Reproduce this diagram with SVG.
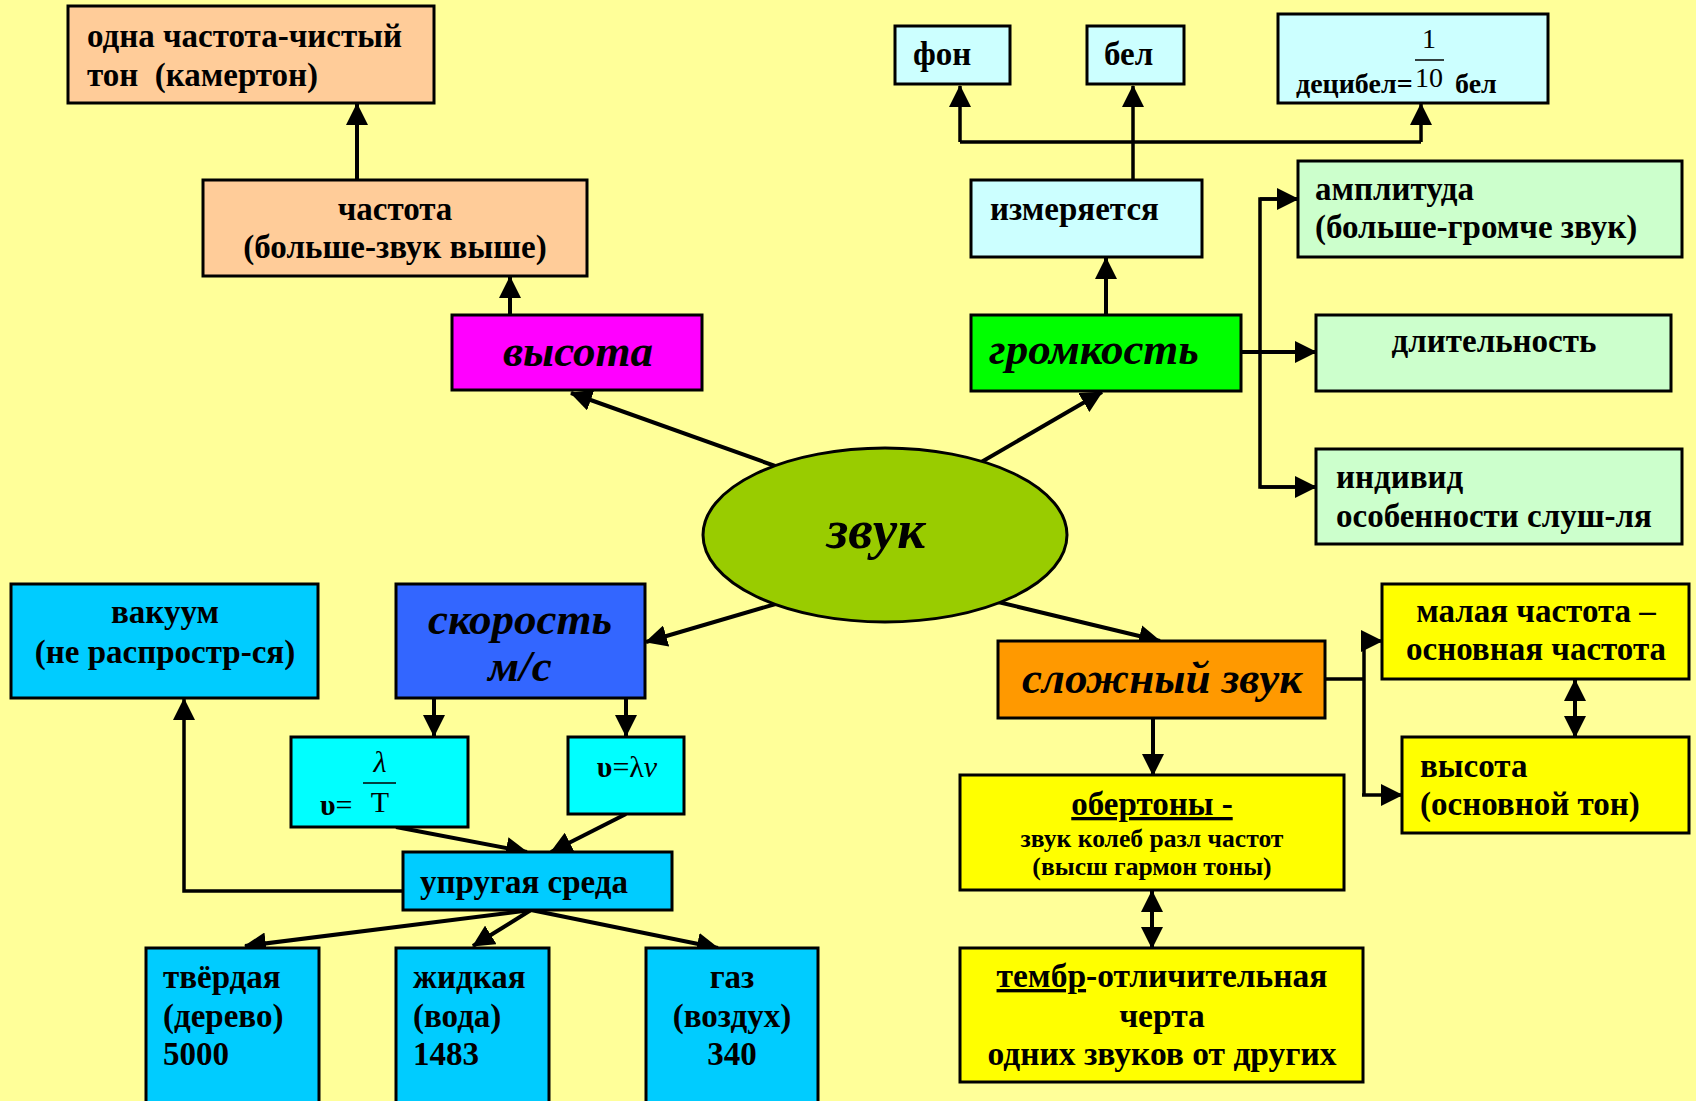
<svg xmlns="http://www.w3.org/2000/svg" width="1696" height="1101" viewBox="0 0 1696 1101">
<style>
.bx{stroke:#000;stroke-width:3}
.t{font-family:"Liberation Serif","Times New Roman",serif;font-weight:bold;font-size:33px;fill:#000;white-space:pre}
.c{text-anchor:middle}
.bi{font-family:"Liberation Serif","Times New Roman",serif;font-weight:bold;font-style:italic;font-size:45px;fill:#000;text-anchor:middle}
.r{font-family:"Liberation Serif","Times New Roman",serif;font-size:28px;fill:#000}
.ln{stroke:#000;stroke-width:4;fill:none}
.br{stroke:#000;stroke-width:3.5;fill:none}
.a{marker-end:url(#ah)}
.d{marker-start:url(#ah);marker-end:url(#ah)}
</style>
<defs>
<marker id="ah" markerUnits="userSpaceOnUse" markerWidth="22" markerHeight="22" refX="21" refY="11" orient="auto-start-reverse" viewBox="0 0 22 22">
<path d="M0,0 L22,11 L0,22 z" fill="#000"/>
</marker>
</defs>
<rect x="0" y="0" width="1696" height="1101" fill="#FFFF99"/>

<g id="connectors">
<line class="ln a" x1="357" y1="180" x2="357" y2="104"/>
<line class="ln a" x1="510" y1="315" x2="510" y2="277"/>
<line class="ln a" x1="778" y1="467" x2="571" y2="393"/>
<line class="ln a" x1="971" y1="468" x2="1102" y2="392"/>
<line class="ln a" x1="1106" y1="315" x2="1106" y2="258"/>
<polyline class="br" points="1133,180 1133,142"/>
<polyline class="br" points="960,142 1421,142"/>
<line class="br a" x1="960" y1="142" x2="960" y2="86"/>
<line class="br a" x1="1133" y1="142" x2="1133" y2="86"/>
<line class="br a" x1="1421" y1="142" x2="1421" y2="104"/>
<line class="ln a" x1="1241" y1="352" x2="1316" y2="352"/>
<polyline class="br" points="1298,199 1260,199 1260,487 1316,487"/>
<line class="br a" x1="1260" y1="199" x2="1298" y2="199"/>
<line class="br a" x1="1260" y1="487" x2="1316" y2="487"/>
<line class="ln a" x1="779" y1="603" x2="646" y2="642"/>
<line class="ln a" x1="434" y1="699" x2="434" y2="736"/>
<line class="ln a" x1="626" y1="699" x2="626" y2="736"/>
<line class="ln a" x1="396" y1="827" x2="527" y2="852"/>
<line class="ln a" x1="626" y1="814" x2="551" y2="852"/>
<polyline class="br a" points="403,891 184,891 184,699"/>
<line class="ln a" x1="531" y1="910" x2="245" y2="946"/>
<line class="ln a" x1="531" y1="910" x2="473" y2="946"/>
<line class="ln a" x1="531" y1="910" x2="718" y2="948"/>
<line class="ln a" x1="998" y1="602" x2="1160" y2="641"/>
<polyline class="br" points="1325,679 1364,679"/>
<polyline class="br" points="1364,641 1364,795"/>
<line class="br a" x1="1362" y1="641" x2="1382" y2="641"/>
<line class="br a" x1="1362" y1="795" x2="1402" y2="795"/>
<line class="ln d" x1="1575" y1="680" x2="1575" y2="737"/>
<line class="ln a" x1="1153" y1="718" x2="1153" y2="775"/>
<line class="ln d" x1="1152" y1="891" x2="1152" y2="948"/>
</g>

<g id="n-odna">
<rect class="bx" x="68" y="6" width="366" height="97" fill="#FFCC99"/>
<text class="t" x="87" y="47">одна частота-чистый</text>
<text class="t" x="87" y="86">тон  (камертон)</text>
</g>
<g id="n-chastota">
<rect class="bx" x="203" y="180" width="384" height="96" fill="#FFCC99"/>
<text class="t c" x="395" y="220">частота</text>
<text class="t c" x="395" y="258">(больше-звук выше)</text>
</g>
<g id="n-vysota">
<rect class="bx" x="452" y="315" width="250" height="75" fill="#FF00FF"/>
<text class="bi" x="578" y="366">высота</text>
</g>
<g id="n-zvuk">
<ellipse class="bx" cx="885" cy="535" rx="182" ry="87" fill="#99CC00"/>
<text class="bi" x="876" y="548" style="font-size:55px">звук</text>
</g>
<g id="n-gromkost">
<rect class="bx" x="971" y="315" width="270" height="76" fill="#00FF00"/>
<text class="bi" x="1094" y="364">громкость</text>
</g>
<g id="n-izmer">
<rect class="bx" x="971" y="180" width="231" height="77" fill="#CCFFFF"/>
<text class="t" x="990" y="220">измеряется</text>
</g>
<g id="n-fon">
<rect class="bx" x="895" y="26" width="115" height="58" fill="#CCFFFF"/>
<text class="t" x="913" y="65">фон</text>
</g>
<g id="n-bel">
<rect class="bx" x="1087" y="26" width="97" height="58" fill="#CCFFFF"/>
<text class="t" x="1104" y="65">бел</text>
</g>
<g id="n-decibel">
<rect class="bx" x="1278" y="14" width="270" height="89" fill="#CCFFFF"/>
<text class="t" x="1296" y="93" style="font-size:28px">децибел=</text>
<text class="r" x="1429" y="48" text-anchor="middle">1</text>
<line x1="1415" y1="60" x2="1444" y2="60" stroke="#000" stroke-width="1.5"/>
<text class="r" x="1429" y="87" text-anchor="middle">10</text>
<text class="t" x="1455" y="93" style="font-size:28px">бел</text>
</g>
<g id="n-amplituda">
<rect class="bx" x="1298" y="161" width="384" height="96" fill="#CCFFCC"/>
<text class="t" x="1315" y="200">амплитуда</text>
<text class="t" x="1315" y="238">(больше-громче звук)</text>
</g>
<g id="n-dlit">
<rect class="bx" x="1316" y="315" width="355" height="76" fill="#CCFFCC"/>
<text class="t c" x="1494" y="352">длительность</text>
</g>
<g id="n-individ">
<rect class="bx" x="1316" y="449" width="366" height="95" fill="#CCFFCC"/>
<text class="t" x="1336" y="488">индивид</text>
<text class="t" x="1336" y="527">особенности слуш-ля</text>
</g>
<g id="n-vakuum">
<rect class="bx" x="11" y="584" width="307" height="114" fill="#00CCFF"/>
<text class="t c" x="165" y="623">вакуум</text>
<text class="t c" x="165" y="663">(не распростр-ся)</text>
</g>
<g id="n-skorost">
<rect class="bx" x="396" y="584" width="249" height="114" fill="#3366FF"/>
<text class="bi" x="520" y="634">скорость</text>
<text class="bi" x="520" y="681">м/с</text>
</g>
<g id="n-lambdaT">
<rect class="bx" x="291" y="737" width="177" height="90" fill="#00FFFF"/>
<text class="t" x="320" y="815" style="font-size:30px">υ<tspan font-weight="normal">=</tspan></text>
<text class="r" x="380" y="772" text-anchor="middle" style="font-size:30px;font-style:italic">λ</text>
<line x1="363" y1="783" x2="396" y2="783" stroke="#000" stroke-width="1.5"/>
<text class="r" x="380" y="812" text-anchor="middle" style="font-size:30px">T</text>
</g>
<g id="n-lambdanu">
<rect class="bx" x="568" y="737" width="116" height="77" fill="#00FFFF"/>
<text class="t c" x="627" y="777" style="font-size:30px">υ<tspan font-weight="normal">=λ</tspan><tspan font-weight="normal" font-style="italic">ν</tspan></text>
</g>
<g id="n-uprugaya">
<rect class="bx" x="403" y="852" width="269" height="58" fill="#00CCFF"/>
<text class="t" x="420" y="893">упругая среда</text>
</g>
<g id="n-tverd">
<rect class="bx" x="146" y="948" width="173" height="165" fill="#00CCFF"/>
<text class="t" x="163" y="988">твёрдая</text>
<text class="t" x="163" y="1027">(дерево)</text>
<text class="t" x="163" y="1065">5000</text>
</g>
<g id="n-zhidk">
<rect class="bx" x="396" y="948" width="153" height="165" fill="#00CCFF"/>
<text class="t" x="413" y="988">жидкая</text>
<text class="t" x="413" y="1027">(вода)</text>
<text class="t" x="413" y="1065">1483</text>
</g>
<g id="n-gaz">
<rect class="bx" x="646" y="948" width="172" height="165" fill="#00CCFF"/>
<text class="t c" x="732" y="988">газ</text>
<text class="t c" x="732" y="1027">(воздух)</text>
<text class="t c" x="732" y="1065">340</text>
</g>
<g id="n-slozh">
<rect class="bx" x="998" y="641" width="327" height="77" fill="#FF9900"/>
<text class="bi" x="1162" y="693">сложный звук</text>
</g>
<g id="n-malaya">
<rect class="bx" x="1382" y="584" width="307" height="95" fill="#FFFF00"/>
<text class="t c" x="1536" y="622">малая частота –</text>
<text class="t c" x="1536" y="660">основная частота</text>
</g>
<g id="n-vysota2">
<rect class="bx" x="1402" y="737" width="287" height="96" fill="#FFFF00"/>
<text class="t" x="1420" y="777">высота</text>
<text class="t" x="1420" y="815">(основной тон)</text>
</g>
<g id="n-obert">
<rect class="bx" x="960" y="775" width="384" height="115" fill="#FFFF00"/>
<text class="t c" x="1152" y="815" text-decoration="underline">обертоны -</text>
<text class="t c" x="1152" y="847" style="font-size:25.6px">звук колеб разл частот</text>
<text class="t c" x="1152" y="875" style="font-size:25.6px">(высш гармон тоны)</text>
</g>
<g id="n-timbre">
<rect class="bx" x="960" y="948" width="403" height="134" fill="#FFFF00"/>
<text class="t c" x="1162" y="987" style="font-size:33.5px"><tspan text-decoration="underline">тембр</tspan>-отличительная</text>
<text class="t c" x="1162" y="1027" style="font-size:33.5px">черта</text>
<text class="t c" x="1162" y="1065" style="font-size:33.5px">одних звуков от других</text>
</g>
</svg>
